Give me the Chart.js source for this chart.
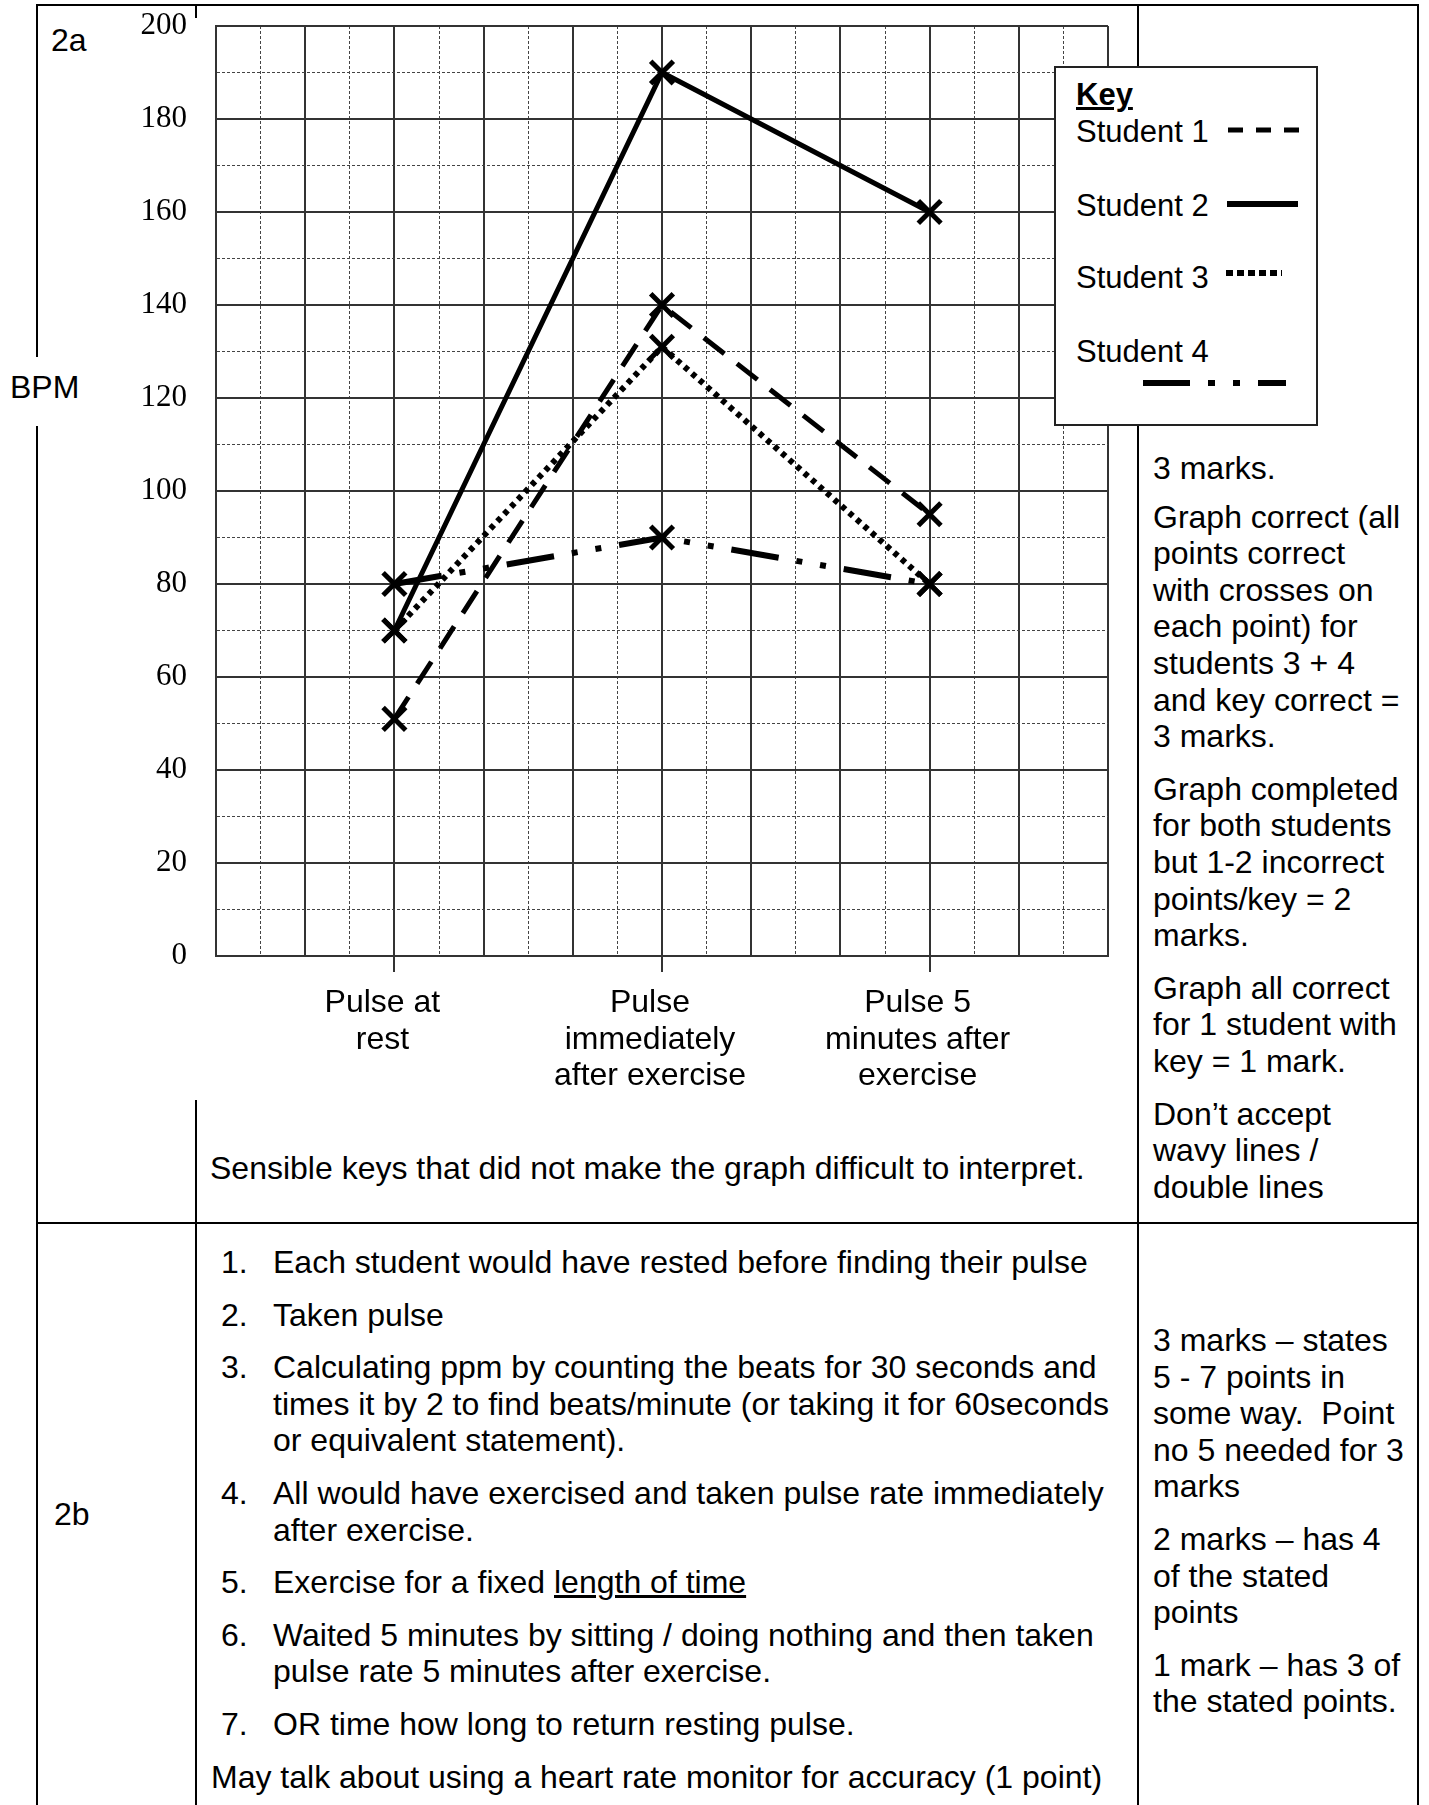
<!DOCTYPE html>
<html>
<head>
<meta charset="utf-8">
<title>Pulse rates mark scheme</title>
<script src="https://cdn.jsdelivr.net/npm/chart.js@4.4.0/dist/chart.umd.min.js"></script>
<style>
  html, body { margin: 0; padding: 0; background: #fff; }
  body {
    width: 1429px; height: 1805px; position: relative; overflow: hidden;
    font-family: "Liberation Sans", Arial, sans-serif; font-size: 32px;
    line-height: 36.6px; color: #000;
  }
  .ln { position: absolute; background: #000; }
  .t { position: absolute; white-space: nowrap; }
  .t p { margin: 0 0 16px 0; }
  .li { position: relative; padding-left: 62px; margin-bottom: 16px; }
  .li .n { position: absolute; left: 10px; top: 0; }
  #chart { position: absolute; left: 100px; top: 0; }
  #key {
    position: absolute; left: 1054px; top: 66px; width: 264px; height: 360px;
    box-sizing: border-box; border: 2px solid #222; background: #fff;
    font-size: 31px;
  }
  #key .k { position: absolute; left: 20px; white-space: nowrap; }
  #key svg { position: absolute; left: -2px; top: -2px; }
</style>
</head>
<body>

<!-- table rules -->
<div class="ln" style="left:36px; top:4px; width:1383px; height:2px;"></div>
<div class="ln" style="left:36px; top:4px; width:2px; height:353px;"></div>
<div class="ln" style="left:36px; top:426px; width:2px; height:1379px;"></div>
<div class="ln" style="left:195px; top:4px; width:2px; height:14px;"></div>
<div class="ln" style="left:195px; top:1100px; width:2px; height:705px;"></div>
<div class="ln" style="left:1137px; top:4px; width:2px; height:1801px;"></div>
<div class="ln" style="left:1417px; top:4px; width:2px; height:1801px;"></div>
<div class="ln" style="left:36px; top:1222px; width:1383px; height:2px;"></div>

<div class="t" style="left:51px; top:22px;">2a</div>
<div class="t" style="left:10px; top:369px;">BPM</div>

<canvas id="chart" width="1030" height="1100"></canvas>

<div id="key">
  <div class="k" style="top:9px; font-weight:bold; text-decoration:underline; text-decoration-thickness:3px;">Key</div>
  <div class="k" style="top:46px;">Student 1</div>
  <div class="k" style="top:120px;">Student 2</div>
  <div class="k" style="top:192px;">Student 3</div>
  <div class="k" style="top:266px;">Student 4</div>
  <svg width="264" height="360">
    <line x1="174" y1="64" x2="246" y2="64" stroke="#000" stroke-width="5" stroke-dasharray="15 13"/>
    <line x1="173" y1="138" x2="244" y2="138" stroke="#000" stroke-width="6"/>
    <line x1="172" y1="207" x2="228" y2="207" stroke="#000" stroke-width="6" stroke-dasharray="7 4"/>
    <line x1="89" y1="317" x2="232" y2="317" stroke="#000" stroke-width="6" stroke-dasharray="47 18 7 18 7 18"/>
  </svg>
</div>

<div class="t" style="left:210px; top:1150px;">Sensible keys that did not make the graph difficult to interpret.</div>

<div class="t" style="left:1153px; top:450px;">
  <p style="margin-bottom:12px;">3 marks.</p>
  <p>Graph correct (all<br>points correct<br>with crosses on<br>each point) for<br>students 3 + 4<br>and key correct =<br>3 marks.</p>
  <p>Graph completed<br>for both students<br>but 1-2 incorrect<br>points/key = 2<br>marks.</p>
  <p>Graph all correct<br>for 1 student with<br>key = 1 mark.</p>
  <p>Don’t accept<br>wavy lines /<br>double lines</p>
</div>

<div class="t" style="left:54px; top:1496px;">2b</div>

<div class="t" style="left:211px; top:1244px;">
  <div class="li"><span class="n">1.</span>Each student would have rested before finding their pulse</div>
  <div class="li"><span class="n">2.</span>Taken pulse</div>
  <div class="li"><span class="n">3.</span>Calculating ppm by counting the beats for 30 seconds and<br>times it by 2 to find beats/minute (or taking it for 60seconds<br>or equivalent statement).</div>
  <div class="li"><span class="n">4.</span>All would have exercised and taken pulse rate immediately<br>after exercise.</div>
  <div class="li"><span class="n">5.</span>Exercise for a fixed <u>length of time</u></div>
  <div class="li"><span class="n">6.</span>Waited 5 minutes by sitting / doing nothing and then taken<br>pulse rate 5 minutes after exercise.</div>
  <div class="li"><span class="n">7.</span>OR time how long to return resting pulse.</div>
  <div>May talk about using a heart rate monitor for accuracy (1 point)</div>
</div>

<div class="t" style="left:1153px; top:1322px;">
  <p>3 marks – states<br>5 - 7 points in<br>some way.&nbsp; Point<br>no 5 needed for 3<br>marks</p>
  <p>2 marks – has 4<br>of the stated<br>points</p>
  <p>1 mark – has 3 of<br>the stated points.</p>
</div>

<script>
const categories = [
    ['Pulse at', 'rest'],
    ['Pulse', 'immediately', 'after exercise'],
    ['Pulse 5', 'minutes after', 'exercise']
];
const student1 = [51, 140, 95];
const student2 = [70, 190, 160];
const student3 = [70, 131, 80];
const student4 = [80, 90, 80];
const yLabels = [0, 20, 40, 60, 80, 100, 120, 140, 160, 180, 200];

document.addEventListener("DOMContentLoaded", function () {
    const ctx = document.getElementById('chart').getContext('2d');

    // two grid columns either side of the outer categories, minor lines every half column
    const pad = 2 / 3;
    const xMin = -pad;
    const xMax = categories.length - 1 + pad;

    function series(label, values, dash, width) {
        return {
            label: label,
            data: values.map((v, i) => ({ x: i, y: v })),
            borderColor: '#000',
            backgroundColor: '#000',
            borderWidth: width,
            borderDash: dash,
            tension: 0,
            fill: false,
            pointStyle: 'crossRot',
            pointRadius: 16,
            pointBorderWidth: 5,
            pointBorderColor: '#000',
            pointBackgroundColor: '#000'
        };
    }

    const isCatTick = (i) => i !== undefined && (i - 4) % 6 === 0;

    new Chart(ctx, {
        type: 'line',
        data: {
            datasets: [
                series('Student 1', student1, [26, 16], 5),
                series('Student 2', student2, [], 5),
                series('Student 3', student3, [5, 5], 6),
                series('Student 4', student4, [48, 18, 6, 18, 6, 18], 6)
            ]
        },
        options: {
            responsive: false,
            animation: false,
            layout: { padding: { top: 26, right: 22, left: 0, bottom: 0 } },
            plugins: {
                legend: { display: false },
                tooltip: { enabled: false }
            },
            scales: {
                x: {
                    type: 'linear',
                    min: xMin,
                    max: xMax,
                    afterBuildTicks: function (scale) {
                        const t = [];
                        for (let k = 0; k <= 20; k++) t.push({ value: xMin + k / 6 });
                        scale.ticks = t;
                    },
                    afterFit: function (scale) {
                        scale.height = 144;
                        scale.paddingLeft = 0;
                        scale.paddingRight = 0;
                    },
                    grid: {
                        color: c => c.index % 2 === 0 ? '#333' : '#444',
                        lineWidth: c => c.index % 2 === 0 ? 2 : 1,
                        tickLength: 16,
                        tickWidth: 2,
                        tickColor: c => isCatTick(c.index) ? '#333' : 'rgba(0,0,0,0)'
                    },
                    border: {
                        color: '#333',
                        width: 2,
                        dash: c => (c.tick && c.index % 2 === 1) ? [3, 2] : []
                    },
                    ticks: {
                        autoSkip: false,
                        maxRotation: 0,
                        minRotation: 0,
                        padding: 13,
                        labelOffset: -12,
                        color: '#000',
                        font: { family: '"Liberation Sans", Arial, sans-serif', size: 32, lineHeight: 1.14 },
                        callback: function (value, index) {
                            return isCatTick(index) ? categories[(index - 4) / 6] : '';
                        }
                    }
                },
                y: {
                    min: 0,
                    max: 200,
                    afterFit: function (scale) {
                        scale.width = 116;
                        scale.paddingTop = 0;
                        scale.paddingBottom = 0;
                    },
                    grid: {
                        drawTicks: false,
                        color: c => c.tick && c.tick.value % 20 === 0 ? '#333' : '#444',
                        lineWidth: c => c.tick && c.tick.value % 20 === 0 ? 2 : 1
                    },
                    border: {
                        color: '#333',
                        width: 2,
                        dash: c => (c.tick && c.tick.value % 20 !== 0) ? [3, 2] : []
                    },
                    ticks: {
                        stepSize: 10,
                        autoSkip: false,
                        padding: 29,
                        color: '#000',
                        font: { family: '"Liberation Serif", "Times New Roman", serif', size: 31 },
                        callback: v => yLabels.includes(v) ? String(v) : ''
                    }
                }
            }
        }
    });
});
</script>
</body>
</html>
